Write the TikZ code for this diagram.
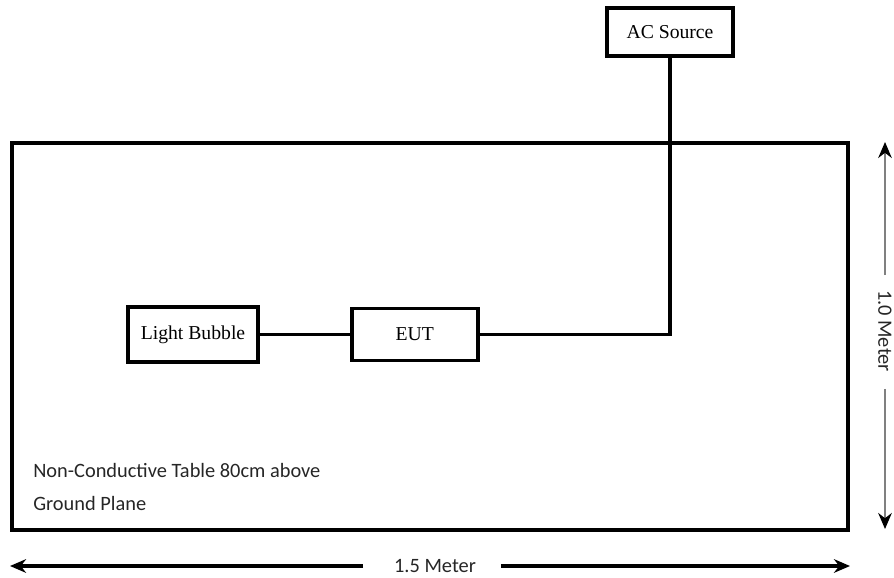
\documentclass[tikz,border=0pt]{standalone}
\usepackage{fontspec}
\setmainfont{Liberation Serif}
\newfontfamily\notefont{Carlito}
\usetikzlibrary{arrows.meta,positioning}

\begin{document}
\begin{tikzpicture}[x=0.025cm, y=-0.025cm,
        block/.style={rectangle, draw, line width=2.6pt, align=center, font=\fontsize{14}{16}\selectfont},
        wire/.style={line width=2.6pt},
        note/.style={font=\notefont\fontsize{14.5}{23.5}\selectfont, align=left, inner sep=0pt, text=black!85},
        dimline/.style={line width=2.2pt, -{Stealth[length=4mm, width=3.4mm]}},
        dimlbl/.style={font=\notefont\fontsize{14.5}{16}\selectfont, text=black!85, inner sep=2pt}
    ]
        \useasboundingbox (0,0) rectangle (894,578);

        % Table
        \node[draw, line width=2.8pt, minimum width=20.9cm, minimum height=9.675cm] (table) at (430,336.5) {};
        \node[note, anchor=west] (tablenote) at (33,487) {Non-Conductive Table 80cm above\\Ground Plane};

        % Blocks
        \node[block, minimum width=3.15cm, minimum height=1.2cm] (acsrc) at (670,32) {AC Source};
        \node[block, minimum width=3.25cm, minimum height=1.375cm] (bulb) at (193,334.5) {Light Bubble};
        \node[block, minimum width=3.15cm, minimum height=1.3cm, right=2.25cm of bulb] (eut) {EUT};

        % Wires
        \draw[wire] (bulb) -- (eut);
        \draw[wire] (acsrc.south) |- (eut.east);

        % Dimensions
        \node[dimlbl] (widthlbl) at (435,566) {1.5 Meter};
        \coordinate (wleft) at (10,566);
        \coordinate (wright) at (850,566);
        \draw[dimline] ([xshift=-0.7cm]widthlbl.west) -- (wleft);
        \draw[dimline] ([xshift=0.55cm]widthlbl.east) -- (wright);

        \node[dimlbl, rotate=-90] (heightlbl) at (885,331) {1.0 Meter};
        \coordinate (htop) at (885,142);
        \coordinate (hbot) at (885,529);
        \draw[dimline, line width=1.3pt, draw=black!50, -{Stealth[length=4mm, width=3.4mm, black]}] ([yshift=0.3cm]heightlbl.west) -- (htop);
        \draw[dimline, line width=1.3pt, draw=black!50, -{Stealth[length=4mm, width=3.4mm, black]}] ([yshift=-0.35cm]heightlbl.east) -- (hbot);
    \end{tikzpicture}
\end{document}
